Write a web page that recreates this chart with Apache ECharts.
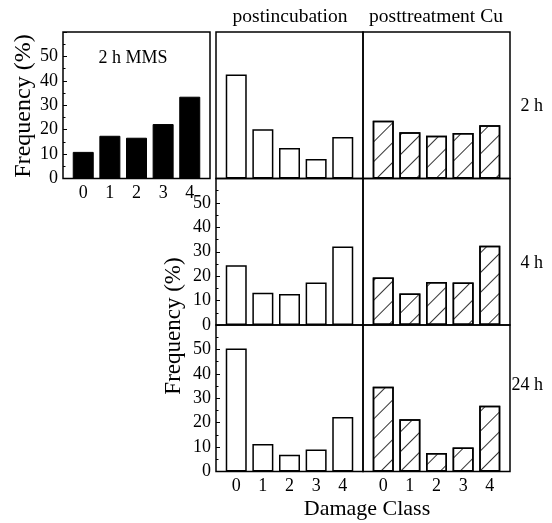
<!DOCTYPE html>
<html><head><meta charset="utf-8">
<script src="https://cdn.jsdelivr.net/npm/echarts@6/dist/echarts.min.js"></script>
<style>html,body{margin:0;padding:0;background:#fff}#c{width:552px;height:523px}</style>
</head><body><div id="c"></div>
<script>
// ---- data ----
const damageClasses = ['0', '1', '2', '3', '4'];
const mms2h      = [10.9, 17.5, 16.7, 22.3, 33.5];
const postinc2h  = [42.6, 20.2, 12.5, 8.0, 17.0];
const cu2h       = [23.7, 18.9, 17.5, 18.6, 21.8];
const postinc4h  = [24.5, 13.2, 12.7, 17.4, 32.1];
const cu4h       = [19.5, 12.9, 17.6, 17.4, 32.5];
const postinc24h = [50.4, 11.3, 6.9, 9.0, 22.3];
const cu24h      = [34.7, 21.4, 7.6, 9.8, 26.9];
const yMax = 60;
const rowLabels = ['2 h', '4 h', '24 h'];
const colTitles = ['postincubation', 'posttreatment Cu'];
const panelTitle = '2 h MMS';
const yName = 'Frequency (%)';
const xName = 'Damage Class';

// ---- layout ----
const FONT = 'Liberation Serif';
const W = 147, H = 146.5;
const colLeft = [216, 363];
const rowTop = [32, 178.5, 325];

const panels = [
  { data: mms2h, style: 'black', left: 63, top: 32, yLab: true, yTick: true, xLab: true },
  { data: postinc2h, style: 'white', left: colLeft[0], top: rowTop[0], yLab: false, yTick: false, xLab: false },
  { data: cu2h, style: 'hatch', left: colLeft[1], top: rowTop[0], yLab: false, yTick: false, xLab: false },
  { data: postinc4h, style: 'white', left: colLeft[0], top: rowTop[1], yLab: true, yTick: true, xLab: false },
  { data: cu4h, style: 'hatch', left: colLeft[1], top: rowTop[1], yLab: false, yTick: false, xLab: false },
  { data: postinc24h, style: 'white', left: colLeft[0], top: rowTop[2], yLab: true, yTick: true, xLab: true },
  { data: cu24h, style: 'hatch', left: colLeft[1], top: rowTop[2], yLab: false, yTick: false, xLab: true }
];

const grid = [], xAxis = [], yAxis = [], series = [];
panels.forEach((p, i) => {
  grid.push({ left: p.left, top: p.top, width: W, height: H, show: true,
    borderColor: '#000', borderWidth: 1.5, backgroundColor: 'transparent' });
  xAxis.push({ type: 'value', gridIndex: i, min: -0.76, max: 4.76,
    axisLine: { show: false, onZero: false }, axisTick: { show: false }, splitLine: { show: false },
    axisLabel: { show: p.xLab, margin: 6, color: '#000', fontFamily: FONT, fontSize: 18,
      showMinLabel: false, showMaxLabel: false,
      formatter: v => (Math.abs(v - Math.round(v)) < 1e-6 && v >= 0 && v <= 4) ? damageClasses[Math.round(v)] : '' } });
  yAxis.push({ type: 'value', gridIndex: i, min: 0, max: yMax, interval: 10,
    axisLine: { show: false, onZero: false }, splitLine: { show: false },
    axisTick: { show: p.yTick, inside: true, length: 4, lineStyle: { color: '#000', width: 1 } },
    minorTick: { show: p.yTick, splitNumber: 2, length: 2.5, lineStyle: { color: '#000', width: 1 } },
    axisLabel: { show: p.yLab, margin: 5, color: '#000', fontFamily: FONT, fontSize: 18,
      formatter: v => v >= 60 ? '' : String(v) } });
  let itemStyle;
  if (p.style === 'black') itemStyle = { color: '#000', borderColor: '#000', borderWidth: 1 };
  else if (p.style === 'white') itemStyle = { color: '#fff', borderColor: '#000', borderWidth: 1.5 };
  else itemStyle = { color: '#fff', borderColor: '#000', borderWidth: 1.5,
    decal: { symbol: 'rect', symbolSize: 1, dashArrayX: [1, 0], dashArrayY: [1, 13],
      rotation: -Math.PI / 4, color: '#333', backgroundColor: null } };
  series.push({ type: 'bar', xAxisIndex: i, yAxisIndex: i, barWidth: 21, silent: true,
    itemStyle, data: p.data.map((v, k) => [k, v]) });
});

const txt = (x, y, s, size, extra) => Object.assign({ type: 'text', x, y,
  style: { text: s, fill: '#000', font: size + 'px "' + FONT + '"', align: 'center', verticalAlign: 'middle' } }, extra || {});
const graphic = [
  txt(133, 58, panelTitle, 18),
  txt(290, 17, colTitles[0], 19.5),
  txt(436, 17, colTitles[1], 19.5),
  txt(367, 509, xName, 22),
  Object.assign(txt(24, 106, yName, 24), { rotation: Math.PI / 2 }),
  Object.assign(txt(174, 326, yName, 23), { rotation: Math.PI / 2 })
];
const rowY = [106, 263, 385];
rowLabels.forEach((s, r) => {
  graphic.push({ type: 'text', x: 543, y: rowY[r],
    style: { text: s, fill: '#000', font: '18px "' + FONT + '"', align: 'right', verticalAlign: 'middle' } });
});

const chart = echarts.init(document.getElementById('c'), null, { renderer: 'canvas' });
chart.setOption({ animation: false, backgroundColor: '#fff', grid, xAxis, yAxis, series, graphic });
</script></body></html>
